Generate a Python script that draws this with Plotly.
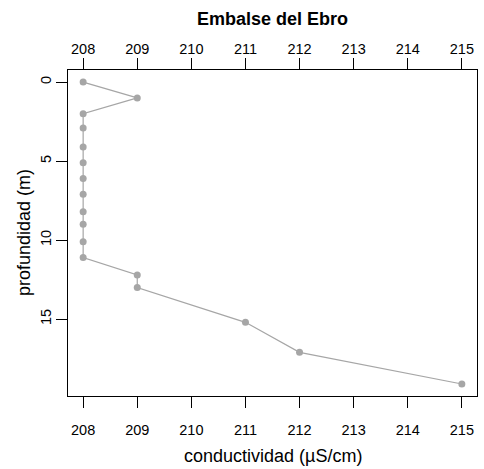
import plotly.graph_objects as go

# Data
conductividad = [208, 209, 208, 208, 208, 208, 208, 208, 208, 208, 208, 208, 209, 209, 211, 212, 215]
profundidad = [0, 1, 2, 2.9, 4.1, 5.1, 6.1, 7.1, 8.2, 9.0, 10.1, 11.1, 12.2, 13.0, 15.2, 17.1, 19.1]
x_ticks = [208, 209, 210, 211, 212, 213, 214, 215]
y_ticks = [0, 5, 10, 15]

title_text = "Embalse del Ebro"
x_title = "conductividad (µS/cm)"
y_title = "profundidad (m)"

FONT = "Liberation Sans, Arial, sans-serif"
fs = 14.5
fs_lab = 18

fig = go.Figure()
fig.add_trace(go.Scatter(
    x=conductividad, y=profundidad, mode="lines+markers",
    line=dict(color="#A6A6A6", width=1.2),
    marker=dict(color="#A6A6A6", size=7),
    showlegend=False, hoverinfo="x+y",
))
# invisible trace for the top axis
fig.add_trace(go.Scatter(
    x=conductividad, y=profundidad, xaxis="x2", mode="markers",
    marker=dict(opacity=0), showlegend=False, hoverinfo="skip",
))

xr = [207.72, 215.28]
yr = [19.86, -0.764]

axis_common = dict(
    showgrid=False, zeroline=False, ticks="outside", ticklen=11,
    tickwidth=1, tickcolor="black",
    tickfont=dict(family=FONT, size=fs, color="black"),
)

fig.update_layout(
    width=484, height=469,
    margin=dict(l=68, r=7, t=70, b=73),
    paper_bgcolor="white", plot_bgcolor="white",
    font=dict(family=FONT, color="black"),
    xaxis=dict(range=xr, tickvals=x_ticks, showline=True, linecolor="black",
               linewidth=1.3, mirror=True, ticklabelstandoff=9, **axis_common),
    xaxis2=dict(range=xr, tickvals=x_ticks, overlaying="x", side="top",
                showline=False, ticklabelstandoff=-2, **axis_common),
    yaxis=dict(range=yr, tickvals=y_ticks, showline=True, linecolor="black",
               linewidth=1.3, mirror=True, tickangle=-90, ticklabelstandoff=-1,
               **axis_common),
    annotations=[
        dict(text="<b>" + title_text + "</b>", xref="paper", yref="paper",
             x=0.5, y=1, yanchor="middle", yshift=51, showarrow=False,
             font=dict(family=FONT, size=18, color="black")),
        dict(text=x_title, xref="paper", yref="paper", x=0.5, y=0,
             yanchor="middle", yshift=-60, showarrow=False,
             font=dict(family=FONT, size=fs_lab, color="black")),
        dict(text=y_title, xref="paper", yref="paper", x=0, y=0.5,
             xanchor="center", xshift=-44, textangle=-90, showarrow=False,
             font=dict(family=FONT, size=fs_lab, color="black")),
    ],
)

fig.write_html("out.html", config={"displayModeBar": False},
               post_script="document.body.style.margin='0';")
